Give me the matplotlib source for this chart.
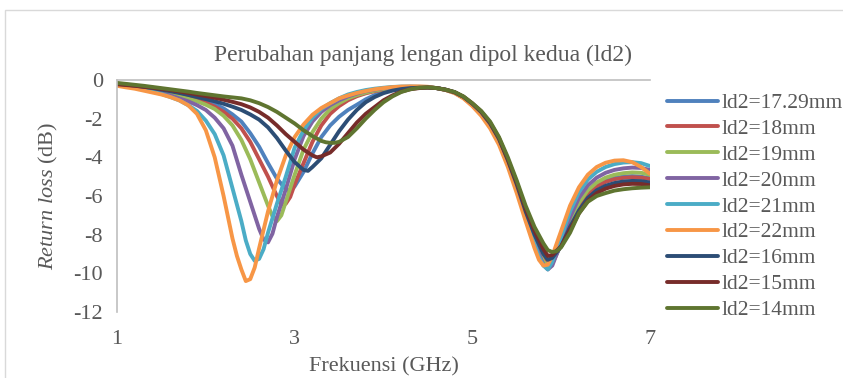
import numpy as np
import matplotlib.pyplot as plt
from matplotlib import rcParams
from matplotlib.patches import Rectangle

rcParams['font.family'] = 'Liberation Serif'
rcParams['mathtext.fontset'] = 'custom'
rcParams['mathtext.rm'] = 'Liberation Serif'
rcParams['mathtext.it'] = 'Liberation Serif:italic'

# frequency grid (GHz)
freq = np.round(np.arange(1.0, 7.0001, 0.1), 1)

labels = ['ld2=17.29mm', 'ld2=18mm', 'ld2=19mm', 'ld2=20mm', 'ld2=21mm',
          'ld2=22mm', 'ld2=16mm', 'ld2=15mm', 'ld2=14mm']
colors = ['#4F81BD', '#C0504D', '#9BBB59', '#8064A2', '#4BACC6',
          '#F79646', '#2C4D75', '#772C2A', '#5F7530']

# return loss (dB)
rl_1729 = [-0.20, -0.25, -0.30, -0.37, -0.45, -0.53, -0.62, -0.72, -0.83, -0.95,
           -1.08, -1.25, -1.47, -1.78, -2.15, -2.75, -3.45, -4.30, -5.10, -5.65,
           -5.50, -4.75, -3.80, -2.95, -2.35, -1.90, -1.55, -1.28, -1.00, -0.78,
           -0.62, -0.50, -0.43, -0.40, -0.39,
           -0.38, -0.42, -0.51, -0.65, -0.90, -1.26, -1.72, -2.32, -3.13, -4.25,
           -5.50, -6.90, -8.20, -9.35, -9.50, -8.50, -7.40, -6.50, -5.85, -5.45,
           -5.20, -5.07, -5.00, -4.97, -5.00, -5.08]
rl_18 = [-0.20, -0.25, -0.32, -0.40, -0.48, -0.57, -0.67, -0.78, -0.90, -1.03,
         -1.18, -1.38, -1.65, -2.00, -2.50, -3.20, -4.10, -5.00, -6.00, -6.40,
         -5.40, -4.30, -3.20, -2.35, -1.75, -1.35, -1.05, -0.84, -0.69, -0.58,
         -0.50, -0.44, -0.40, -0.38, -0.38,
         -0.38, -0.42, -0.51, -0.64, -0.89, -1.25, -1.70, -2.30, -3.10, -4.20,
         -5.50, -6.90, -8.20, -9.20, -9.35, -8.55, -7.45, -6.55, -5.90, -5.50,
         -5.27, -5.13, -5.06, -5.03, -5.05, -5.12]
rl_19 = [-0.20, -0.27, -0.34, -0.42, -0.52, -0.62, -0.73, -0.85, -0.97, -1.10,
         -1.28, -1.50, -1.85, -2.35, -3.10, -4.10, -5.30, -6.50, -7.30, -6.30,
         -4.90, -3.60, -2.70, -2.00, -1.50, -1.20, -0.95, -0.78, -0.65, -0.55,
         -0.47, -0.41, -0.38, -0.37, -0.37,
         -0.38, -0.42, -0.51, -0.65, -0.90, -1.27, -1.73, -2.33, -3.15, -4.25,
         -5.55, -6.95, -8.30, -9.40, -9.45, -8.50, -7.30, -6.35, -5.70, -5.30,
         -5.05, -4.90, -4.82, -4.78, -4.80, -4.90]
rl_20 = [-0.22, -0.28, -0.35, -0.45, -0.55, -0.67, -0.80, -0.95, -1.10, -1.30,
         -1.55, -1.95, -2.50, -3.40, -4.90, -6.30, -7.70, -8.40, -7.10, -5.65,
         -4.10, -2.90, -2.15, -1.65, -1.30, -1.05, -0.85, -0.70, -0.58, -0.50,
         -0.43, -0.39, -0.36, -0.35, -0.36,
         -0.37, -0.42, -0.51, -0.65, -0.91, -1.28, -1.75, -2.36, -3.20, -4.30,
         -5.60, -7.00, -8.40, -9.55, -9.60, -8.40, -7.10, -6.10, -5.45, -5.05,
         -4.80, -4.65, -4.57, -4.53, -4.55, -4.65]
rl_21 = [-0.25, -0.30, -0.38, -0.48, -0.60, -0.72, -0.88, -1.05, -1.30, -1.60,
         -2.10, -2.80, -3.90, -5.60, -7.30, -9.00, -9.25, -7.90, -6.40, -5.00,
         -3.50, -2.60, -1.95, -1.50, -1.20, -0.95, -0.75, -0.62, -0.52, -0.45,
         -0.40, -0.36, -0.34, -0.34, -0.35,
         -0.36, -0.42, -0.51, -0.66, -0.92, -1.30, -1.78, -2.40, -3.25, -4.35,
         -5.65, -7.10, -8.50, -9.60, -9.40, -8.10, -6.80, -5.80, -5.15, -4.75,
         -4.50, -4.35, -4.27, -4.25, -4.30, -4.45]
rl_22 = [-0.30, -0.38, -0.45, -0.55, -0.65, -0.75, -0.88, -1.05, -1.30, -1.75,
         -2.60, -4.00, -6.00, -8.20, -9.80, -10.30, -8.70, -6.80, -5.20, -3.90,
         -2.95, -2.30, -1.80, -1.45, -1.20, -0.95, -0.80, -0.67, -0.57, -0.48,
         -0.42, -0.37, -0.34, -0.33, -0.33,
         -0.35, -0.42, -0.52, -0.68, -0.95, -1.35, -1.85, -2.50, -3.35, -4.50,
         -5.85, -7.30, -8.70, -9.60, -9.10, -7.80, -6.50, -5.55, -4.90, -4.50,
         -4.28, -4.17, -4.15, -4.25, -4.50, -4.85]
rl_16 = [-0.20, -0.24, -0.29, -0.35, -0.42, -0.50, -0.58, -0.67, -0.77, -0.88,
         -0.99, -1.10, -1.23, -1.38, -1.55, -1.78, -2.05, -2.45, -3.00, -3.65,
         -4.25, -4.65, -4.50, -4.05, -3.35, -2.65, -2.05, -1.55, -1.15, -0.88,
         -0.68, -0.55, -0.47, -0.42, -0.40,
         -0.39, -0.42, -0.50, -0.63, -0.87, -1.23, -1.66, -2.25, -3.05, -4.15,
         -5.40, -6.80, -8.00, -9.00, -9.20, -8.60, -7.60, -6.75, -6.10, -5.70,
         -5.47, -5.33, -5.25, -5.22, -5.23, -5.30]
rl_15 = [-0.22, -0.26, -0.30, -0.35, -0.40, -0.46, -0.52, -0.59, -0.67, -0.75,
         -0.83, -0.92, -1.02, -1.13, -1.25, -1.42, -1.65, -1.95, -2.35, -2.80,
         -3.20, -3.60, -3.90, -3.95, -3.75, -3.30, -2.75, -2.20, -1.75, -1.40,
         -1.05, -0.80, -0.60, -0.48, -0.42,
         -0.39, -0.42, -0.50, -0.63, -0.86, -1.21, -1.63, -2.20, -3.00, -4.10,
         -5.30, -6.65, -7.80, -8.75, -9.05, -8.60, -7.75, -6.90, -6.25, -5.85,
         -5.62, -5.48, -5.40, -5.37, -5.38, -5.45]
rl_14 = [-0.15, -0.20, -0.25, -0.30, -0.36, -0.42, -0.48, -0.54, -0.60, -0.67,
         -0.73, -0.79, -0.85, -0.90, -0.95, -1.05, -1.20, -1.40, -1.65, -1.95,
         -2.25, -2.60, -2.90, -3.15, -3.25, -3.20, -2.95, -2.50, -2.00, -1.55,
         -1.15, -0.85, -0.62, -0.48, -0.40,
         -0.38, -0.42, -0.50, -0.62, -0.85, -1.20, -1.60, -2.15, -2.95, -4.00,
         -5.20, -6.50, -7.60, -8.45, -8.90, -8.65, -7.90, -6.90, -6.30, -6.00,
         -5.85, -5.72, -5.65, -5.60, -5.57, -5.55]

# extra readings around the two minima of each curve (GHz, dB)
dip_f_1729 = [2.95, 5.85];             dip_v_1729 = [-5.75, -9.60]
dip_f_18 = [2.85, 2.95, 5.85];         dip_v_18 = [-6.45, -6.05, -9.50]
dip_f_19 = [2.75, 2.85, 5.85];         dip_v_19 = [-7.05, -7.00, -9.60]
dip_f_20 = [2.65, 2.75, 5.85];         dip_v_20 = [-8.25, -7.95, -9.80]
dip_f_21 = [2.45, 2.55, 2.65, 5.75, 5.85]
dip_v_21 = [-8.30, -9.35, -8.75, -9.15, -9.80]
dip_f_22 = [2.35, 2.45, 2.55, 2.65, 5.75, 5.85]
dip_v_22 = [-9.10, -10.40, -9.70, -7.75, -9.30, -9.55]
dip_f_16 = [3.15, 5.85];               dip_v_16 = [-4.70, -9.30]
dip_f_15 = [3.25, 5.85];               dip_v_15 = [-4.00, -9.10]
dip_f_14 = [3.35, 3.45, 5.85, 5.95];   dip_v_14 = [-3.22, -3.25, -8.80, -8.85]

series = [(rl_1729, dip_f_1729, dip_v_1729), (rl_18, dip_f_18, dip_v_18),
          (rl_19, dip_f_19, dip_v_19), (rl_20, dip_f_20, dip_v_20),
          (rl_21, dip_f_21, dip_v_21), (rl_22, dip_f_22, dip_v_22),
          (rl_16, dip_f_16, dip_v_16), (rl_15, dip_f_15, dip_v_15),
          (rl_14, dip_f_14, dip_v_14)]

txt = '#595959'
fig = plt.figure(figsize=(8.43, 3.78), dpi=100)
W, H = 843, 378
ax = fig.add_axes([117/W, 1-312/H, (650-117)/W, (312-80)/H])

for (y, df, dv), lab, c in zip(series, labels, colors):
    f = np.concatenate([freq, df])
    v = np.concatenate([y, dv])
    o = np.argsort(f)
    ax.plot(f[o], v[o], color=c, lw=2.8, label=lab, solid_joinstyle='round',
            solid_capstyle='round')

ax.set_xlim(1, 7)
ax.set_ylim(-12, 0)
ax.set_xticks([1, 3, 5, 7])
ax.set_yticks(np.arange(-12, 1, 2))
ax.set_yticklabels(['-12', '-10', '-8', '-6', '-4', '-2', '0'])
ax.tick_params(length=0, labelsize=16, colors=txt, pad=10)
ax.tick_params(axis='x', pad=13)
for s in ['right', 'bottom']:
    ax.spines[s].set_visible(False)
ax.spines['left'].set_color('#BFBFBF')
ax.spines['top'].set_color('#BFBFBF')
ax.spines['left'].set_linewidth(1.2)
ax.spines['top'].set_linewidth(1.2)

ax.set_xlabel('Frekuensi (GHz)', fontsize=16, color=txt, labelpad=6)
ax.set_ylabel(r'$\mathit{Return\ loss}$ (dB)', fontsize=16, color=txt, labelpad=10)
fig.text(423/W, 1-55/H, 'Perubahan panjang lengan dipol kedua (ld2)',
         ha='center', va='center', fontsize=17, color=txt)

fig.patches.append(Rectangle((5/W, -0.1), 1.0, 1-10/H+0.1, transform=fig.transFigure,
                             fill=False, ec='#D9D9D9', lw=1.0))

leg = ax.legend(loc='upper left', bbox_to_anchor=(667/W, 1-93/H),
                bbox_transform=fig.transFigure, frameon=False, fontsize=15.5,
                handlelength=2.35, handletextpad=0.18, labelspacing=0.27,
                borderpad=0, borderaxespad=0)
for t in leg.get_texts():
    t.set_color(txt)

fig.savefig('out.png', dpi=100)
